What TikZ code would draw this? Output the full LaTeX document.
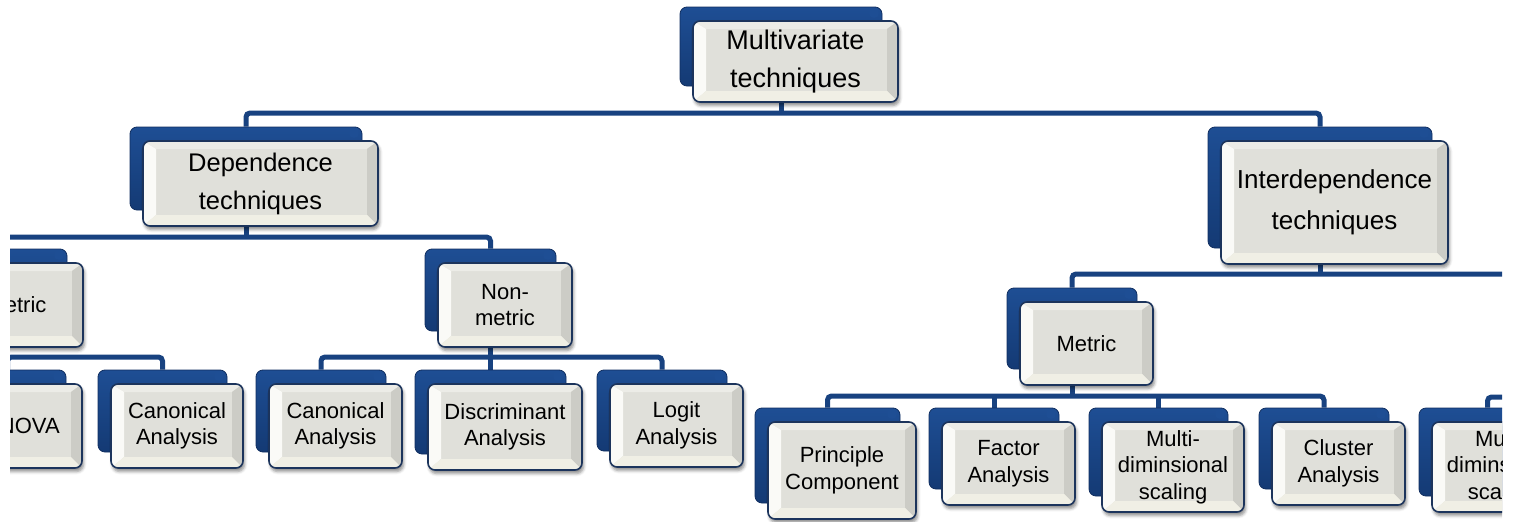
\documentclass[tikz,border=0pt]{standalone}
\usepackage{fontspec}
\setmainfont{Liberation Sans}
\usetikzlibrary{shadows.blur}
\definecolor{conncol}{RGB}{24,66,128}
\definecolor{backtop}{RGB}{30,78,148}
\definecolor{backbot}{RGB}{20,58,116}
\definecolor{backedge}{RGB}{16,46,96}
\definecolor{bordercol}{RGB}{28,52,92}
\definecolor{facecol}{RGB}{224,224,218}
\definecolor{bevtop}{RGB}{236,236,231}
\definecolor{bevleft}{RGB}{250,250,247}
\definecolor{bevright}{RGB}{204,204,198}
\definecolor{bevbot}{RGB}{240,239,229}
\definecolor{glint}{RGB}{150,190,240}
\pgfdeclarelayer{background}
\pgfsetlayers{background,main}
\tikzset{
  backbox/.style={rectangle, rounded corners=7pt, draw=backedge, line width=0.8pt,
    top color=backtop, bottom color=backbot, inner sep=0pt,
    path picture={\shade[sharp corners, inner color=glint, outer color=backtop]
      ([xshift=-8pt,yshift=-6pt]path picture bounding box.north east) circle (5pt);}},
  frontbox/.style={rectangle, rounded corners=7pt, draw=bordercol, line width=1.6pt,
    fill=facecol, align=center, inner sep=0pt, text=black,
    blur shadow={shadow xshift=1.5pt, shadow yshift=-3.5pt, shadow blur radius=3pt, shadow opacity=45},
    path picture={
      \fill[sharp corners, bevtop] (path picture bounding box.north west) -- (path picture bounding box.north east)
        -- ([xshift=-11pt,yshift=-8pt]path picture bounding box.north east)
        -- ([xshift=13pt,yshift=-8pt]path picture bounding box.north west) -- cycle;
      \fill[sharp corners, bevleft] (path picture bounding box.north west)
        -- ([xshift=13pt,yshift=-8pt]path picture bounding box.north west)
        -- ([xshift=13pt,yshift=11pt]path picture bounding box.south west)
        -- (path picture bounding box.south west) -- cycle;
      \fill[sharp corners, bevright] (path picture bounding box.north east)
        -- ([xshift=-11pt,yshift=-8pt]path picture bounding box.north east)
        -- ([xshift=-11pt,yshift=11pt]path picture bounding box.south east)
        -- (path picture bounding box.south east) -- cycle;
      \fill[sharp corners, bevbot] (path picture bounding box.south west)
        -- ([xshift=13pt,yshift=11pt]path picture bounding box.south west)
        -- ([xshift=-11pt,yshift=11pt]path picture bounding box.south east)
        -- (path picture bounding box.south east) -- cycle;
    }},
  conn/.style={draw=conncol, line width=5pt, rounded corners=4pt},
  fbig/.style={font=\fontsize{27pt}{38pt}\selectfont},
  fdep/.style={font=\fontsize{25.5pt}{38pt}\selectfont},
  finter/.style={font=\fontsize{26pt}{41pt}\selectfont},
  fsmall/.style={font=\fontsize{22pt}{26.5pt}\selectfont},
}
% #1 name, #2 cx, #3 cy, #4 w, #5 h, #6 font style, #7 text
\newcommand\twinbox[7]{%
  \node[backbox, minimum width=#4pt-3pt, minimum height=#5pt-2pt] (bk-#1) at (#2-14.5,#3-15) {};
  \node[frontbox, #6, minimum width=#4pt, minimum height=#5pt] (#1) at (#2,#3) {#7};
}
\begin{document}
\begin{tikzpicture}[x=1pt,y=-1pt]
\useasboundingbox (0,0) rectangle (1516,522);
\begin{scope}
\clip (10,-5) rectangle (1502,530);
\twinbox{top}{795.5}{61.5}{205}{81}{fbig}{Multivariate\\techniques}
\twinbox{dep}{260.5}{183.5}{235}{85}{fdep}{Dependence\\techniques}
\twinbox{inter}{1334.5}{202.5}{227}{123}{finter}{Interdependence\\techniques}
\twinbox{metL}{16.5}{305}{133}{84}{fsmall}{Metric}
\twinbox{non}{505}{305}{134}{84}{fsmall}{Non-\\metric}
\twinbox{metR}{1086.5}{343.5}{133}{83}{fsmall}{Metric}
\twinbox{anova}{22}{426}{120}{84}{fsmall}{ANOVA}
\twinbox{can1}{177}{426}{132}{84}{fsmall}{Canonical\\Analysis}
\twinbox{can2}{335.5}{426}{133}{84}{fsmall}{Canonical\\Analysis}
\twinbox{disc}{505}{427}{154}{86}{fsmall}{Discriminant\\Analysis}
\twinbox{logit}{676.5}{425.5}{133}{83}{fsmall}{Logit\\Analysis}
\twinbox{pc}{842}{470.5}{148}{97}{fsmall}{Principle\\Component}
\twinbox{fa}{1008.5}{463.5}{133}{83}{fsmall}{Factor\\Analysis}
\twinbox{md}{1173}{467}{142}{90}{fsmall}{Multi-\\diminsional\\scaling}
\twinbox{cl}{1338.5}{463.5}{133}{83}{fsmall}{Cluster\\Analysis}
\twinbox{mdR}{1502}{467}{140}{90}{fsmall}{Multi-\\diminsional\\scaling}
\end{scope}
\coordinate (busT) at (0,113);
\coordinate (busD) at (0,237);
\coordinate (busN) at (0,357);
\coordinate (busI) at (0,274);
\coordinate (busM) at (0,396);
\coordinate (offI) at (1600,274);
\coordinate (offR) at (1600,397);
\begin{pgfonlayer}{background}
\clip (10,-5) rectangle (1502,530);
% level 1
\draw[conn] (bk-top.center) -- (bk-top.center |- busT);
\draw[conn] (bk-dep.north) -- (bk-dep.north |- busT) -- (bk-inter.north |- busT) -- (bk-inter.north);
% dependence
\draw[conn] (bk-dep.center) -- (bk-dep.center |- busD);
\draw[conn] (bk-metL.north) -- (bk-metL.north |- busD) -- (bk-non.north |- busD) -- (bk-non.north);
% left metric
\draw[conn] (bk-metL.center) -- (bk-metL.center |- busN);
\draw[conn] (bk-anova.north) -- (bk-anova.north |- busN) -- (bk-can1.north |- busN) -- (bk-can1.north);
% non-metric
\draw[conn] (bk-non.center) -- (bk-non.center |- busN);
\draw[conn] (bk-can2.north) -- (bk-can2.north |- busN) -- (bk-logit.north |- busN) -- (bk-logit.north);
\draw[conn] (bk-disc.north |- busN) -- (bk-disc.north);
% interdependence
\draw[conn] (bk-inter.center) -- (bk-inter.center |- busI);
\draw[conn] (bk-metR.north) -- (bk-metR.north |- busI) -- (offI);
% right metric
\draw[conn] (bk-metR.center) -- (bk-metR.center |- busM);
\draw[conn] (bk-pc.north) -- (bk-pc.north |- busM) -- (bk-cl.north |- busM) -- (bk-cl.north);
\draw[conn] (bk-fa.north |- busM) -- (bk-fa.north);
\draw[conn] (bk-md.north |- busM) -- (bk-md.north);
% right clipped group
\draw[conn] (bk-mdR.north) -- (bk-mdR.north |- offR) -- (offR);
\end{pgfonlayer}
\end{tikzpicture}
\end{document}
